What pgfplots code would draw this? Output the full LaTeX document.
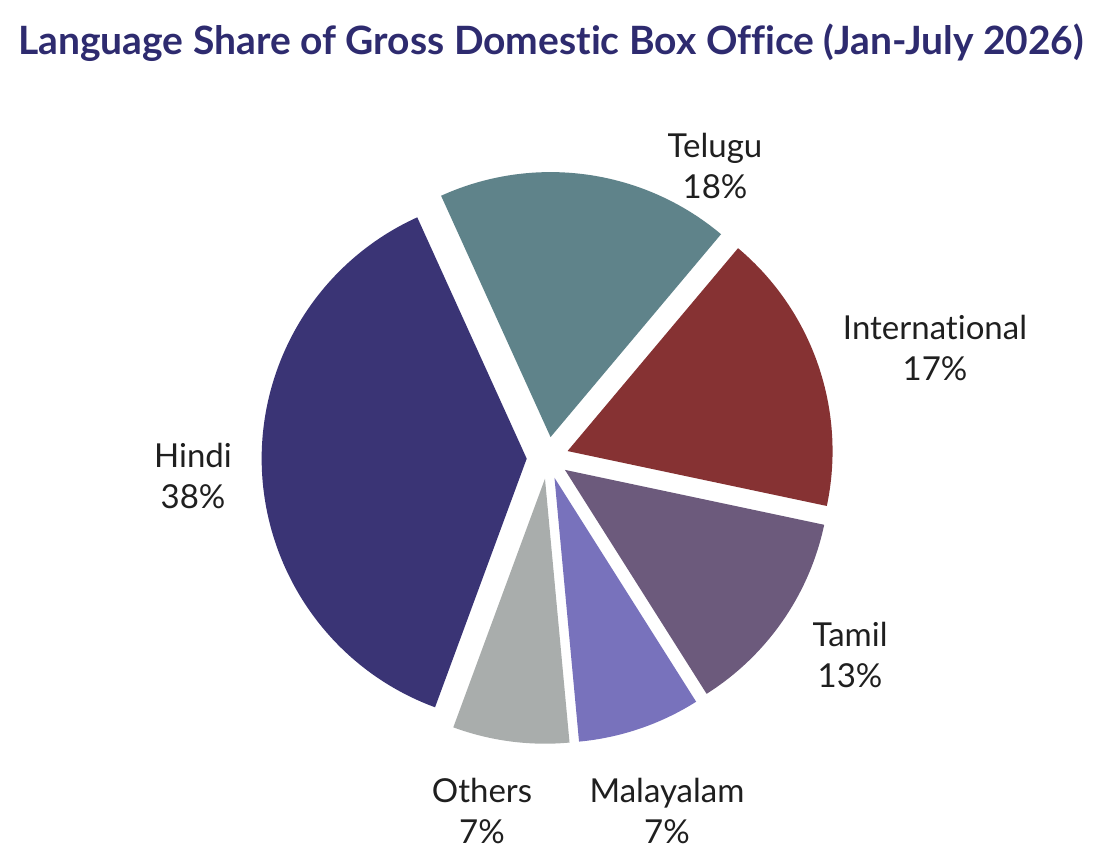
\documentclass[border=0pt]{standalone}
\usepackage{pgfplots}
\pgfplotsset{compat=1.18}
\usepackage{pgfplotstable}
\usepackage{fontspec}
\setmainfont{Lato}[Ligatures=NoCommon]

\definecolor{c0}{HTML}{5F838A}% Telugu
\definecolor{c1}{HTML}{863233}% International
\definecolor{c2}{HTML}{6C5A7C}% Tamil
\definecolor{c3}{HTML}{7872BC}% Malayalam
\definecolor{c4}{HTML}{A9ADAC}% Others
\definecolor{c5}{HTML}{3A3475}% Hindi
\definecolor{titlec}{HTML}{2E2B6F}

% share (%), label text, label position (axis units = pixels)
\pgfplotstableread{
name value pct lx ly
Telugu 17.9 18 715 698
International 17.2 17 935 516
Tamil 12.7 13 850 209
Malayalam 7.5 7 667 53
Others 7.1 7 482 53
Hindi 37.6 38 193 388
}\shares

\def\cx{547.7}\def\cy{406.1}\def\explode{21}
\pgfmathsetmacro\curang{114.4}%
\pgfplotsforeachungrouped \i in {0,...,5}{%
  \pgfplotstablegetelem{\i}{value}\of\shares
  \pgfmathsetmacro\wdg{\pgfplotsretval*3.6}%
  \expandafter\xdef\csname sa\i\endcsname{\curang}%
  \pgfmathsetmacro\curang{\curang-\wdg}%
  \expandafter\xdef\csname ea\i\endcsname{\curang}%
  \pgfmathsetmacro\mida{\curang+\wdg/2}%
  \pgfmathsetmacro\apx{\cx+\explode*cos(\mida)}%
  \pgfmathsetmacro\apy{\cy+\explode*sin(\mida)}%
  \expandafter\xdef\csname ax\i\endcsname{\apx}%
  \expandafter\xdef\csname ay\i\endcsname{\apy}%
  \pgfplotstablegetelem{\i}{name}\of\shares
  \expandafter\xdef\csname nm\i\endcsname{\pgfplotsretval}%
  \pgfplotstablegetelem{\i}{pct}\of\shares
  \expandafter\xdef\csname pc\i\endcsname{\pgfplotsretval}%
  \pgfplotstablegetelem{\i}{lx}\of\shares
  \expandafter\xdef\csname lx\i\endcsname{\pgfplotsretval}%
  \pgfplotstablegetelem{\i}{ly}\of\shares
  \expandafter\xdef\csname ly\i\endcsname{\pgfplotsretval}%
}

\begin{document}
\begin{tikzpicture}
\begin{axis}[
  width=549bp, height=432bp, scale only axis,
  xmin=0, xmax=1098, ymin=0, ymax=864,
  hide axis, clip=false,
]
\path (axis cs:0,0) (axis cs:1098,864);
\pgfplotsinvokeforeach{0,...,5}{%
  \edef\tmp{\noexpand\fill[c#1] (axis cs:\csname ax#1\endcsname,\csname ay#1\endcsname)
    -- ++(\csname sa#1\endcsname:132.5bp)
    arc[start angle=\csname sa#1\endcsname, end angle=\csname ea#1\endcsname, radius=132.5bp]
    -- cycle;}%
  \tmp
  \edef\tmp{\noexpand\node[align=center, text=black!88, font=\noexpand\fontsize{16.5bp}{20.5bp}\noexpand\selectfont]
    at (axis cs:\csname lx#1\endcsname,\csname ly#1\endcsname) {\csname nm#1\endcsname\noexpand\\\csname pc#1\endcsname\noexpand\%};}%
  \tmp
}
\node[anchor=base, text=titlec, font=\bfseries\fontsize{19.5bp}{23bp}\selectfont]
  at (axis cs:551,809.7) {Language Share of Gross Domestic Box Office (Jan-July 2026)};
\end{axis}
\end{tikzpicture}
\end{document}
